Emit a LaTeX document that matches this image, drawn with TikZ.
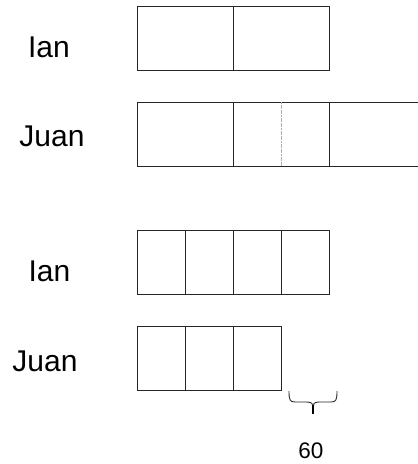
\documentclass[tikz,border=0pt]{standalone}
\usepackage{fontspec}
\setmainfont{Liberation Sans}
\definecolor{pinkline}{RGB}{255,140,140}
\begin{document}
\begin{tikzpicture}[x=1pt,y=-1pt,
  cell/.style={draw=black!85,line width=0.9pt},
  namelabel/.style={anchor=base,inner sep=0pt,font=\fontsize{30}{36}\selectfont},
  numlabel/.style={anchor=base,inner sep=0pt,font=\fontsize{22.5}{27}\selectfont}]
\useasboundingbox (0,0) rectangle (418,464);
% labels
\node[namelabel] (ian1) at (49,57.3) {Ian};
\node[namelabel] (juan1) at (52,146) {Juan};
\node[namelabel] (ian2) at (49.5,281.7) {Ian};
\node[namelabel] (juan2) at (45,371) {Juan};
% row 1
\draw[cell] (137,6) rectangle (233,70);
\draw[cell] (233,6) rectangle (329,70);
% row 2
\draw[cell] (137,102) rectangle (233,166);
\draw[cell] (233,102) rectangle (329,166);
\draw[cell] (329,102) rectangle (425,166);
\draw[pinkline,line width=1pt,dash pattern=on 2pt off 0.6pt] (281,102) -- (281,166);
% row 3
\foreach \i in {0,1,2,3}
  \draw[cell] ({137+48*\i},230) rectangle ({185+48*\i},294);
% row 4
\foreach \i in {0,1,2}
  \draw[cell] ({137+48*\i},326) rectangle ({185+48*\i},390);
% brace
\draw[black!85,line width=0.9pt] (289,391) .. controls (289,400) and (290,402) .. (295,402)
  -- (307,402) .. controls (312,402) and (313,404) .. (313,407)
  .. controls (313,404) and (314,402) .. (319,402)
  -- (331,402) .. controls (336,402) and (337,400) .. (337,391);
\draw[black,line width=1.6pt] (313,405) -- (313,414);
\node[numlabel] (sixty) at (311,458) {60};
\end{tikzpicture}
\end{document}
